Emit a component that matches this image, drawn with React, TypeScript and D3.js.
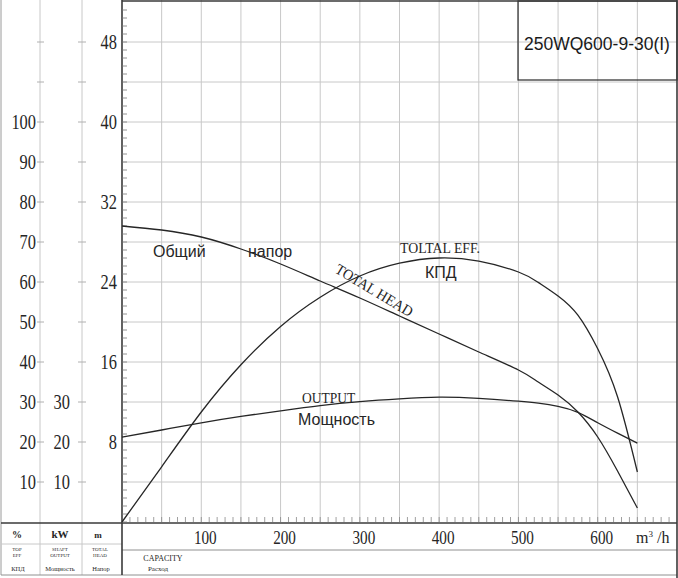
import * as d3 from 'd3';

// Capacity (m3/h) sample points
const flow = [0, 50, 100, 150, 200, 250, 300, 350, 400, 450, 500, 525, 550, 575, 600, 625, 650];
const totalHead = [29.6, 29.2, 28.5, 27.3, 25.8, 24.1, 22.4, 20.6, 18.8, 17.0, 15.2, 14.0, 12.7, 11.0, 8.5, 5.1, 1.4];
const efficiency = [0, 13.8, 27.5, 39.3, 48.9, 56.2, 61.5, 64.7, 66.0, 65.2, 62.5, 59.9, 56.5, 51.7, 43.3, 31.3, 12.5];
const output = [21.2, 23.0, 24.8, 26.4, 27.8, 29.1, 30.1, 30.8, 31.2, 30.9, 30.2, 29.7, 28.9, 27.4, 24.8, 22.2, 19.7];

const flowTicks = [100, 200, 300, 400, 500, 600];
const headTicks = [8, 16, 24, 32, 40, 48];
const effTicks = [10, 20, 30, 40, 50, 60, 70, 80, 90, 100];
const powerTicks = [10, 20, 30];

const modelName = '250WQ600-9-30(I)';

const W = 678;
const H = 578;
const left = 122;
const right = 677;
const bottom = 522;

const x = d3.scaleLinear().domain([0, 700]).range([left, right]);
const yHead = d3.scaleLinear().domain([0, 52]).range([bottom, 2]);
const yPct = d3.scaleLinear().domain([0, 100]).range([bottom, 122]);

const serif = '"Liberation Serif", "DejaVu Serif", serif';
const sans = '"Liberation Sans", Arial, sans-serif';
const gridColor = '#c8c8c8';
const ink = '#262626';

function Num({ x, y, text, anchor = 'end', size = 20, sx = 0.82 }: { x: number; y: number; text: string; anchor?: string; size?: number; sx?: number }) {
  return (
    <text
      transform={`translate(${x},${y}) scale(${sx},1)`}
      textAnchor={anchor as any}
      dominantBaseline="central"
      fontFamily={serif}
      fontSize={size}
      fill={ink}
    >
      {text}
    </text>
  );
}

export default function App() {
  const line = (vals: number[], y: d3.ScaleLinear<number, number>) =>
    d3.line<number>()
      .x((_, i) => x(flow[i]))
      .y(d => y(d))
      .curve(d3.curveNatural)(vals) || '';

  const vGrid = d3.range(50, 700, 50);
  const hGrid = d3.range(4, 52, 4);
  const headMinor = d3.range(0, 52, 0.8);
  const flowMinor = d3.range(10, 700, 10);
  const colTicks = d3.range(4, 52, 4).map(v => yHead(v));

  return (
    <svg width={W} height={H} style={{ position: 'absolute', left: 0, top: 0, background: '#fff' }}>
      {/* grid */}
      <g stroke={gridColor} strokeWidth={1}>
        {vGrid.map(v => (
          <line key={`v${v}`} x1={x(v)} x2={x(v)} y1={0} y2={bottom} />
        ))}
        {hGrid.map(v => (
          <line key={`h${v}`} x1={left} x2={right} y1={yHead(v)} y2={yHead(v)} />
        ))}
        {/* left scale columns */}
        <line x1={1} x2={1} y1={0} y2={575} stroke="#9a9a9a" />
        <line x1={40} x2={40} y1={0} y2={575} />
        <line x1={82} x2={82} y1={0} y2={575} />
        {colTicks.map((y, i) => (
          <g key={`c${i}`} stroke="#b0b0b0">
            <line x1={37} x2={44} y1={y} y2={y} />
            <line x1={78} x2={86} y1={y} y2={y} />
          </g>
        ))}
        {/* bottom rows */}
        <line x1={1} x2={left} y1={544} y2={544} />
        <line x1={left} x2={right} y1={550} y2={550} stroke="#909090" />
        <line x1={1} x2={right} y1={575} y2={575} stroke="#909090" />
      </g>

      {/* axes and frame */}
      <g stroke="#3a3a3a" fill="none">
        <line x1={left} x2={left} y1={0} y2={575} strokeWidth={1.6} />
        <line x1={1} x2={right} y1={523} y2={523} strokeWidth={1.6} />
        <line x1={left} x2={right} y1={1} y2={1} strokeWidth={1.4} />
        <line x1={right} x2={right} y1={0} y2={578} strokeWidth={1.6} />
        <rect x={518} y={1} width={right - 518} height={79} strokeWidth={1.3} />
        {headMinor.map((v, i) => (
          <line key={`hm${i}`} x1={left} x2={left + 5} y1={yHead(v)} y2={yHead(v)} strokeWidth={0.8} stroke="#777" />
        ))}
        {flowMinor.map(v => (
          <line key={`fm${v}`} x1={x(v)} x2={x(v)} y1={bottom} y2={bottom - 5} strokeWidth={0.8} stroke="#888" />
        ))}
      </g>

      {/* curves */}
      <g fill="none" stroke={ink} strokeWidth={1.3}>
        <path d={line(totalHead, yHead)} />
        <path d={line(efficiency, yPct)} />
        <path d={line(output, yPct)} />
      </g>

      {/* tick labels */}
      {headTicks.map(t => (
        <Num key={`ht${t}`} x={117} y={yHead(t)} text={String(t)} />
      ))}
      {effTicks.map(t => (
        <Num key={`et${t}`} x={36} y={yPct(t)} text={String(t)} />
      ))}
      {powerTicks.map(t => (
        <Num key={`pt${t}`} x={70} y={yPct(t)} text={String(t)} />
      ))}
      {flowTicks.map(t => (
        <Num key={`ft${t}`} x={x(t) + 4} y={538} text={String(t)} anchor="middle" size={19} sx={0.8} />
      ))}
      <text x={636} y={543} fontFamily={serif} fontSize={16} fill={ink}>
        m<tspan dy={-6} fontSize={9}>3</tspan><tspan dy={6}> /h</tspan>
      </text>

      {/* curve labels */}
      <g fontFamily={sans} fontSize={16} fill={ink}>
        <text x={153} y={257}>Общий</text>
        <text x={248} y={257}>напор</text>
        <text x={425} y={278}>КПД</text>
        <text x={298} y={425}>Мощность</text>
      </g>
      <g fontFamily={serif} fontSize={15} fill={ink}>
        <text transform="translate(400,253) scale(0.92,1)">TOLTAL EFF.</text>
        <text transform="translate(302,403) scale(0.9,1)">OUTPUT</text>
        <text transform="translate(334,272) rotate(31) scale(0.95,1)">TOTAL HEAD</text>
      </g>

      {/* model */}
      <text x={597} y={50} textAnchor="middle" fontFamily={sans} fontSize={17.5} fill="#1a1a1a">
        {modelName}
      </text>

      {/* bottom legend */}
      <g fontFamily={serif} fill={ink} textAnchor="middle">
        <text x={17} y={538} fontSize={10} fontWeight="bold">%</text>
        <text x={60} y={538} fontSize={11} fontWeight="bold">kW</text>
        <text x={98} y={538} fontSize={9} fontWeight="bold">m</text>
        <g fontSize={5}>
          <text x={17} y={551}>TOP</text>
          <text x={17} y={557}>EFF</text>
          <text x={60} y={551}>SHAFT</text>
          <text x={60} y={557}>OUTPUT</text>
          <text x={100} y={551}>TOTAL</text>
          <text x={100} y={557}>HEAD</text>
        </g>
        <g fontSize={6.5}>
          <text x={18} y={571}>КПД</text>
          <text x={60} y={571}>Мощность</text>
          <text x={101} y={571}>Напор</text>
        </g>
        <text x={163} y={561} fontSize={8}>CAPACITY</text>
        <text x={158} y={571} fontSize={7}>Расход</text>
      </g>
    </svg>
  );
}
